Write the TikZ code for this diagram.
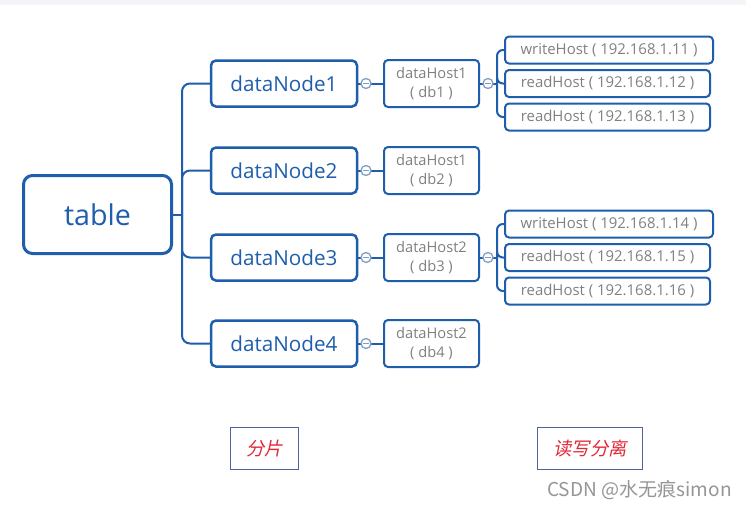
\documentclass[tikz,border=0pt]{standalone}
\usepackage{fontspec}
\setmainfont{Open Sans}
\newfontfamily\cjkfont{Noto Sans CJK SC}
\newfontfamily\cjkslant[FakeSlant=0.2]{Noto Sans CJK SC}

\definecolor{mapblue}{RGB}{30,94,172}
\definecolor{hostgray}{RGB}{128,128,128}
\definecolor{foldgray}{RGB}{130,158,198}
\definecolor{tagblue}{RGB}{80,100,155}
\definecolor{tagred}{RGB}{226,40,55}
\definecolor{markgray}{RGB}{150,150,150}
\definecolor{topgray}{RGB}{244,245,248}

\newdimen\px \px=0.75pt

\begin{document}
\begin{tikzpicture}[x=0.75pt,y=-0.75pt,
  rootbox/.style={draw=mapblue,line width=3\px,rounded corners=9\px,text=mapblue,
    minimum width=148\px,minimum height=78\px,inner sep=0pt,font=\fontsize{21.5}{24}\selectfont},
  nodebox/.style={draw=mapblue,line width=2.5\px,rounded corners=5\px,text=mapblue,
    minimum width=146\px,minimum height=46\px,inner sep=0pt,font=\fontsize{15.5}{18}\selectfont},
  hostbox/.style={draw=mapblue,line width=2\px,rounded corners=4\px,text=hostgray,align=center,
    minimum width=95\px,minimum height=47\px,inner sep=0pt,font=\fontsize{11}{14.3}\selectfont},
  serverbox/.style={draw=mapblue,line width=2\px,rounded corners=4\px,text=hostgray,
    minimum height=27\px,inner sep=0pt,font=\fontsize{11.2}{13}\selectfont},
  link/.style={draw=mapblue,line width=2\px},
  fold/.style={circle,draw=foldgray,fill=white,line width=1.3\px,minimum size=10\px,inner sep=0pt,
    path picture={\draw[foldgray,line width=1.2\px]
      ([xshift=-3\px]path picture bounding box.center) -- ([xshift=3\px]path picture bounding box.center);}},
  tagbox/.style={draw=tagblue,line width=1.2\px,minimum height=42\px,inner sep=0pt,text=tagred,
    font=\cjkslant\fontsize{13.8}{16}\selectfont}]

\useasboundingbox (0,0) rectangle (746,507);
\fill[white] (0,0) rectangle (746,507);
\fill[topgray] (0,0) rectangle (746,5);

\node[rootbox] (table) at (97.5,214.5) {table};

\node[nodebox] (dn1) at (284,83.5) {dataNode1};
\node[nodebox] (dn2) at (284,170.5) {dataNode2};
\node[nodebox] (dn3) at (284,257.5) {dataNode3};
\node[nodebox] (dn4) at (284,343.5) {dataNode4};

\node[hostbox] (dh1) at (431.5,83.5) {dataHost1\\( db1 )};
\node[hostbox] (dh2) at (431.5,170.5) {dataHost1\\( db2 )};
\node[hostbox] (dh3) at (431.5,257.5) {dataHost2\\( db3 )};
\node[hostbox] (dh4) at (431.5,343.5) {dataHost2\\( db4 )};

\node[serverbox,minimum width=208\px] (w1) at (609,50) {writeHost ( 192.168.1.11 )};
\node[serverbox,minimum width=205\px] (r1a) at (607.5,83.5) {readHost ( 192.168.1.12 )};
\node[serverbox,minimum width=205\px] (r1b) at (607.5,117) {readHost ( 192.168.1.13 )};
\node[serverbox,minimum width=208\px] (w3) at (609,224) {writeHost ( 192.168.1.14 )};
\node[serverbox,minimum width=205\px] (r3a) at (607.5,257.5) {readHost ( 192.168.1.15 )};
\node[serverbox,minimum width=205\px] (r3b) at (607.5,291) {readHost ( 192.168.1.16 )};

\coordinate (trunk) at (182,214.5);
\coordinate (fork1) at (497,83.5);
\coordinate (fork3) at (497,257.5);

\draw[link] (table.east) -- (trunk);
\foreach \n in {dn1,dn2,dn3,dn4}
  \draw[link,rounded corners=8\px] (trunk) |- (\n.west);

\foreach \i in {1,...,4}
  \draw[link] (dn\i.east) -- (dh\i.west);

\draw[link] (dh1.east) -- (fork1);
\foreach \n in {w1,r1a,r1b}
  \draw[link,rounded corners=6\px] (fork1) |- (\n.west);
\draw[link] (dh3.east) -- (fork3);
\foreach \n in {w3,r3a,r3b}
  \draw[link,rounded corners=6\px] (fork3) |- (\n.west);

\node[fold] (f1) at (366,83.5) {};
\node[fold] (f2) at (366,170.5) {};
\node[fold] (f3) at (366,257.5) {};
\node[fold] (f4) at (366,343.5) {};
\node[fold] (g1) at (488,83.5) {};
\node[fold] (g3) at (488,257.5) {};

\node[tagbox,minimum width=68\px] (shard) at (264.5,448.5) {分片};
\node[tagbox,minimum width=105\px] (rwsplit) at (590,448.5) {读写分离};

\node[anchor=west,inner sep=0pt,text=markgray,font=\cjkfont\fontsize{14.3}{16}\selectfont]
  (mark) at (547,490) {CSDN @水无痕simon};

\end{tikzpicture}
\end{document}
